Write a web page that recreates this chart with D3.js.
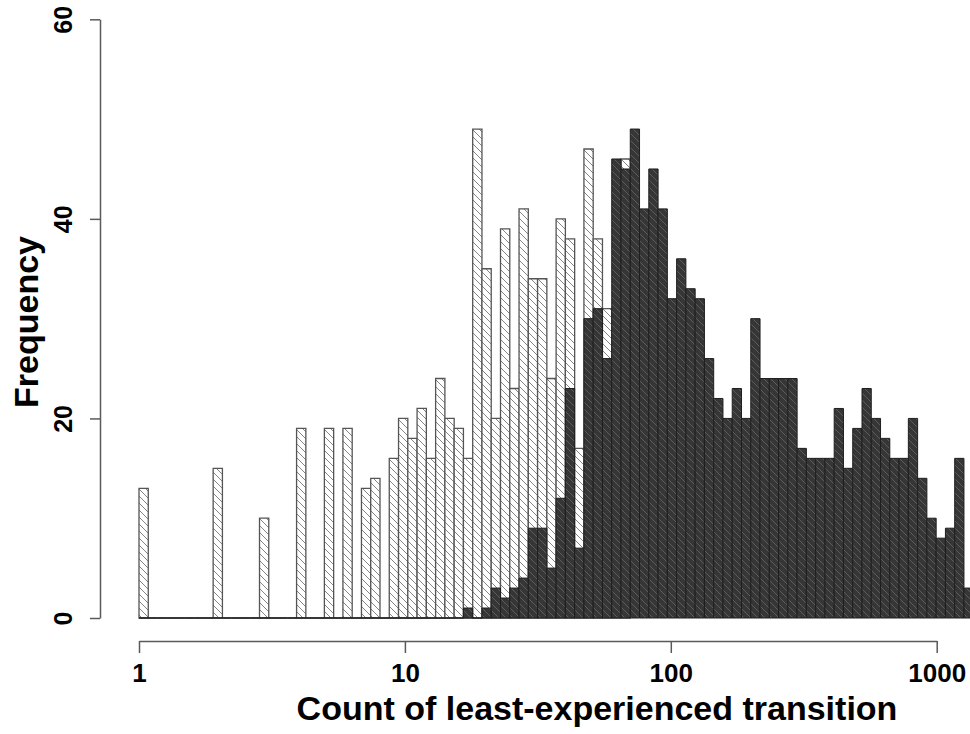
<!DOCTYPE html>
<html lang="en">
  <head>
    <meta charset="utf-8">
    <title>Least-experienced transition histogram</title>
    <script src="https://d3js.org/d3.v7.min.js"></script>
    <style>
      body { margin: 0; background: #fff; }
      text { font-family: "Liberation Sans", Arial, Helvetica, sans-serif; font-weight: bold; fill: #000; }
    </style>
  </head>
  <body>
    <script>
      // histogram bins are equal steps on log10(count), starting at 1
      const logBinWidth = 0.03486
      const binCount = 90

      // hatched white series, one count per bin
      const lightCounts = [
        13, 0, 0, 0, 0, 0, 0, 0, 15, 0,
        0, 0, 0, 10, 0, 0, 0, 19, 0, 0,
        19, 0, 19, 0, 13, 14, 0, 16, 20, 18,
        21, 16, 24, 20, 19, 16, 49, 35, 20, 39,
        23, 41, 34, 34, 24, 40, 38, 17, 47, 38,
        31, 0, 46
      ]

      // dark series, one count per bin
      const darkCounts = [
        0, 0, 0, 0, 0, 0, 0, 0, 0, 0,
        0, 0, 0, 0, 0, 0, 0, 0, 0, 0,
        0, 0, 0, 0, 0, 0, 0, 0, 0, 0,
        0, 0, 0, 0, 0, 1, 0, 1, 3, 2,
        3, 4, 9, 9, 5, 12, 23, 7, 30, 31,
        26, 46, 45, 49, 41, 45, 41, 32, 36, 33,
        32, 26, 22, 20, 23, 20, 30, 24, 24, 24,
        24, 17, 16, 16, 16, 21, 15, 19, 23, 20,
        18, 16, 16, 20, 14, 10, 8, 9, 16, 3
      ]

      const xTicks = [1, 10, 100, 1000]
      const yTicks = [0, 20, 40, 60]

      const width = 970
      const height = 734

      const breaks = d3.range(binCount + 1).map(i => Math.pow(10, i * logBinWidth))

      const svg = d3.select("body").append("svg")
        .attr("width", width)
        .attr("height", height)

      let x = d3.scaleLog()
        .domain([1, 1000])
        .range([139, 936.7])

      let y = d3.scaleLinear()
        .domain([0, 60])
        .range([618, 19.3])

      // hatching patterns
      const defs = svg.append("defs")
      function hatch(id, bg, line) {
        const s = 7
        const p = defs.append("pattern")
          .attr("id", id)
          .attr("patternUnits", "userSpaceOnUse")
          .attr("width", s)
          .attr("height", s)
        p.append("rect").attr("width", s).attr("height", s).attr("fill", bg)
        p.append("path")
          .attr("d", `M0,0 L${s},${s} M${-s},0 L0,${s} M${s},0 L${2 * s},${s}`)
          .attr("stroke", line)
          .attr("stroke-width", 1)
      }
      hatch("hatchLight", "#ffffff", "#858585")
      hatch("hatchDark", "#363636", "#5c5c5c")

      function barPath(count, i) {
        const x0 = x(breaks[i]), x1 = x(breaks[i + 1])
        const y0 = y(0), y1 = y(count)
        return `M${x0},${y0}V${y1}H${x1}V${y0}Z`
      }

      // white bars first, dark bars drawn over them
      svg.append("g").selectAll("path")
        .data(lightCounts)
        .join("path")
        .attr("d", barPath)
        .attr("fill", "url(#hatchLight)")
        .attr("stroke", "#555")
        .attr("stroke-width", 1.3)

      svg.append("g").selectAll("path")
        .data(darkCounts)
        .join("path")
        .attr("d", barPath)
        .attr("fill", "url(#hatchDark)")
        .attr("stroke", "#1e1e1e")
        .attr("stroke-width", 1)

      // axes, R style
      let xAxis = d3.axisBottom(x)
        .tickValues(xTicks)
        .tickFormat(d3.format("d"))
        .tickSize(12)
        .tickSizeOuter(0)

      let gx = svg.append("g")
        .attr("transform", "translate(0,641)")
        .call(xAxis)
      gx.selectAll("path, line").attr("stroke", "#5a5a5a").attr("stroke-width", 1.5)
      gx.selectAll("text")
        .attr("y", 41)
        .attr("dy", 0)
        .style("font-size", "26px")

      let yAxis = d3.axisLeft(y)
        .tickValues(yTicks)
        .tickSize(10)
        .tickSizeOuter(0)

      let gy = svg.append("g")
        .attr("transform", "translate(100,0)")
        .call(yAxis)
      gy.selectAll("path, line").attr("stroke", "#5a5a5a").attr("stroke-width", 1.5)
      gy.selectAll("text")
        .attr("transform", "rotate(-90)")
        .attr("x", 0)
        .attr("y", -28)
        .attr("dy", 0)
        .attr("text-anchor", "middle")
        .style("font-size", "25px")
      gx.attr("font-family", null).attr("font-size", null)
      gy.attr("font-family", null).attr("font-size", null)

      // axis titles
      svg.append("text")
        .attr("x", 597)
        .attr("y", 720)
        .attr("text-anchor", "middle")
        .style("font-size", "34px")
        .text("Count of least-experienced transition")

      svg.append("text")
        .attr("transform", "translate(38,322) rotate(-90)")
        .attr("text-anchor", "middle")
        .style("font-size", "34px")
        .text("Frequency")
    </script>
  </body>
</html>
